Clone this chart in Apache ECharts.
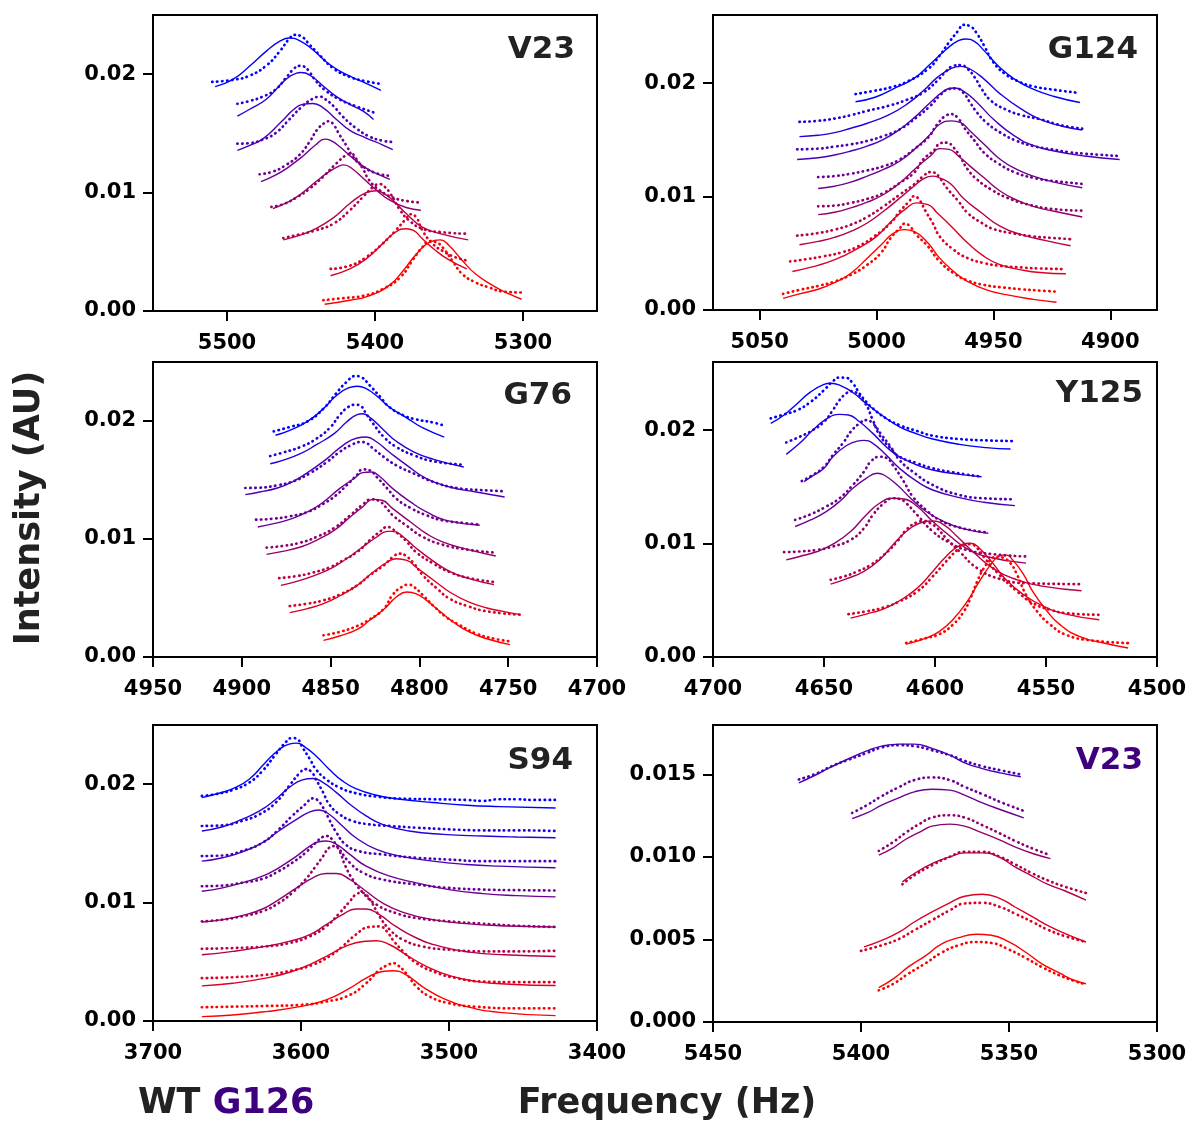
<!DOCTYPE html>
<html>
<head>
<meta charset="utf-8">
<script src="https://cdn.jsdelivr.net/npm/echarts@6/dist/echarts.min.js"></script>
<style>
html,body{margin:0;padding:0;background:#fff;}
#chart{width:1191px;height:1126px;}
</style>
</head>
<body>
<div id="chart"></div>
<script>
// ---------- DATA (frequency in Hz, intensity in units of 1e-3 AU) ----------
// Panel V23 (WT)
const v23Fit = [
 [[5508,18.95],[5496,19.57],[5485,20.65],[5473,21.99],[5464,22.81],[5458,23.06],[5451,22.84],[5442,22.07],[5433,21.05],[5424,20.28],[5415,19.72],[5406,19.23],[5396,18.64]],
 [[5493,16.45],[5485,17.02],[5473,17.93],[5462,19.35],[5453,20.09],[5450,20.14],[5444,19.91],[5435,19.01],[5426,18.10],[5417,17.45],[5408,16.88],[5401,16.17]],
 [[5493,13.56],[5485,13.96],[5476,14.52],[5464,15.89],[5455,17.02],[5449,17.45],[5442,17.53],[5435,17.16],[5426,16.17],[5417,15.26],[5406,14.61],[5395,14.04],[5388,13.62]],
 [[5477,10.92],[5467,11.49],[5458,12.20],[5449,13.05],[5440,14.04],[5434,14.52],[5430,14.41],[5424,13.90],[5415,12.91],[5406,12.06],[5397,11.49],[5390,11.12]],
 [[5469,8.65],[5460,9.13],[5451,9.79],[5440,10.92],[5431,11.77],[5424,12.26],[5421,12.34],[5415,11.97],[5408,11.21],[5399,10.21],[5390,9.36],[5379,8.74],[5369,8.51]],
 [[5462,6.01],[5451,6.38],[5440,6.95],[5428,7.89],[5417,9.08],[5406,9.99],[5399,10.16],[5395,9.99],[5388,9.36],[5379,8.23],[5368,7.09],[5354,6.47],[5337,6.01]],
 [[5430,2.98],[5417,3.55],[5406,4.40],[5395,5.67],[5386,6.67],[5379,6.95],[5374,6.81],[5368,6.10],[5359,5.11],[5350,4.31],[5338,3.55]],
 [[5434,0.57],[5417,0.91],[5404,1.28],[5390,2.21],[5381,3.40],[5372,4.82],[5363,5.82],[5356,6.01],[5350,5.53],[5341,4.26],[5332,3.12],[5320,2.13],[5309,1.42],[5301,0.99]]
];
const v23Data = [
 [[5510,19.35],[5496,19.52],[5485,19.86],[5473,20.77],[5464,21.99],[5458,22.98],[5454,23.32],[5450,23.21],[5444,22.47],[5437,21.56],[5428,20.48],[5417,19.77],[5406,19.40],[5396,19.18]],
 [[5493,17.50],[5485,17.73],[5476,18.10],[5467,18.72],[5460,19.72],[5455,20.43],[5451,20.71],[5448,20.65],[5444,20.14],[5440,19.43],[5433,18.58],[5424,17.87],[5413,17.30],[5400,16.74]],
 [[5493,14.13],[5485,14.18],[5476,14.47],[5467,15.04],[5458,16.17],[5449,17.30],[5442,17.93],[5437,18.10],[5434,17.93],[5428,17.30],[5422,16.45],[5413,15.46],[5404,14.75],[5395,14.38],[5388,14.27]],
 [[5478,11.55],[5469,11.77],[5460,12.34],[5451,13.19],[5444,14.33],[5439,15.32],[5434,15.89],[5431,16.03],[5428,15.74],[5424,14.89],[5419,13.90],[5415,13.05],[5408,12.20],[5399,11.63],[5390,11.43]],
 [[5470,8.79],[5462,9.02],[5453,9.59],[5444,10.35],[5435,11.35],[5426,12.48],[5419,13.19],[5416,13.28],[5413,12.91],[5408,11.97],[5404,11.06],[5397,10.21],[5388,9.59],[5379,9.30],[5369,9.16]],
 [[5462,6.16],[5451,6.47],[5440,6.81],[5428,7.38],[5417,8.51],[5408,9.65],[5401,10.50],[5397,10.72],[5394,10.55],[5390,9.99],[5383,8.51],[5377,7.66],[5368,6.95],[5356,6.67],[5337,6.52]],
 [[5430,3.55],[5417,3.83],[5406,4.54],[5395,5.67],[5386,6.81],[5379,7.80],[5376,8.17],[5372,7.89],[5368,6.81],[5361,5.67],[5354,5.05],[5347,4.60],[5338,4.26]],
 [[5435,0.91],[5422,1.08],[5408,1.28],[5395,1.84],[5383,2.84],[5374,4.40],[5368,5.39],[5363,5.90],[5359,5.82],[5354,5.33],[5347,4.11],[5341,3.12],[5332,2.41],[5323,1.99],[5314,1.65],[5301,1.56]]
];
// Panel G124
const g124Fit = [
 [[5009,18.35],[5001,18.73],[4993,19.47],[4984,20.41],[4977,21.68],[4970,23.01],[4965,23.75],[4962,23.89],[4958,23.66],[4954,22.86],[4948,21.53],[4941,20.35],[4933,19.47],[4924,18.82],[4913,18.29]],
 [[5033,15.28],[5025,15.40],[5018,15.63],[5011,16.02],[5004,16.46],[4995,17.17],[4987,18.14],[4980,19.32],[4974,20.50],[4968,21.30],[4964,21.47],[4960,21.24],[4954,20.35],[4947,19.03],[4938,17.70],[4930,16.81],[4921,16.22],[4912,15.87]],
 [[5034,13.27],[5025,13.42],[5018,13.66],[5011,14.01],[5004,14.45],[4997,15.04],[4990,15.93],[4983,17.11],[4977,18.29],[4971,19.32],[4967,19.56],[4963,19.32],[4957,18.29],[4950,16.81],[4941,15.34],[4933,14.51],[4924,14.01],[4911,13.57],[4896,13.27]],
 [[5025,10.71],[5018,10.91],[5011,11.27],[5004,11.80],[4997,12.39],[4990,13.13],[4983,14.31],[4977,15.49],[4973,16.37],[4968,16.67],[4964,16.52],[4960,15.78],[4954,14.60],[4947,13.27],[4940,12.39],[4933,11.80],[4924,11.27],[4912,10.77]],
 [[5025,8.41],[5018,8.61],[5011,9.00],[5004,9.50],[4997,10.18],[4990,11.21],[4983,12.54],[4977,13.57],[4973,14.22],[4969,14.16],[4965,13.57],[4960,12.68],[4954,11.65],[4947,10.47],[4940,9.68],[4933,9.14],[4924,8.70],[4912,8.20]],
 [[5033,5.75],[5025,6.05],[5018,6.40],[5011,6.93],[5004,7.67],[4997,8.70],[4990,9.88],[4984,10.91],[4980,11.56],[4976,11.80],[4973,11.65],[4968,11.06],[4963,9.88],[4955,8.55],[4947,7.37],[4938,6.64],[4928,6.14],[4917,5.66]],
 [[5036,3.39],[5028,3.78],[5021,4.19],[5014,4.78],[5007,5.55],[5000,6.49],[4993,7.96],[4987,9.00],[4983,9.44],[4978,9.29],[4974,8.55],[4968,7.37],[4961,5.90],[4954,4.72],[4947,3.98],[4938,3.54],[4930,3.30],[4919,3.19]],
 [[5040,1.03],[5033,1.42],[5025,1.83],[5018,2.42],[5011,3.24],[5004,4.57],[4998,5.75],[4993,6.73],[4988,7.08],[4984,6.93],[4978,5.90],[4973,4.57],[4967,3.39],[4961,2.51],[4953,1.77],[4944,1.33],[4933,0.94],[4923,0.68]]
];
const g124Data = [
 [[5009,19.03],[5001,19.32],[4994,19.62],[4987,20.12],[4978,21.24],[4973,22.42],[4969,23.60],[4965,24.63],[4963,25.13],[4960,25.01],[4957,24.34],[4954,23.30],[4950,21.83],[4945,20.80],[4940,20.21],[4933,19.71],[4924,19.41],[4913,19.12]],
 [[5033,16.58],[5025,16.67],[5018,16.87],[5011,17.17],[5004,17.55],[4995,17.99],[4987,18.53],[4980,19.17],[4974,20.21],[4970,21.09],[4967,21.53],[4964,21.59],[4961,21.24],[4958,20.50],[4955,19.47],[4951,18.44],[4945,17.70],[4938,17.17],[4930,16.81],[4921,16.28],[4912,15.99]],
 [[5034,14.16],[5025,14.22],[5018,14.40],[5011,14.60],[5004,14.90],[4997,15.34],[4990,15.93],[4983,16.96],[4977,17.99],[4973,18.88],[4969,19.47],[4966,19.53],[4963,19.17],[4960,18.29],[4957,17.40],[4953,16.52],[4947,15.63],[4940,14.90],[4933,14.45],[4925,14.16],[4918,13.92],[4911,13.78],[4896,13.57]],
 [[5025,11.71],[5018,11.80],[5011,12.01],[5004,12.30],[4997,12.68],[4990,13.27],[4984,14.16],[4978,15.19],[4974,16.37],[4970,17.17],[4968,17.26],[4965,16.87],[4962,15.93],[4958,14.90],[4954,13.86],[4948,12.92],[4941,12.15],[4933,11.65],[4924,11.36],[4912,11.12]],
 [[5025,9.14],[5018,9.20],[5011,9.44],[5004,9.79],[4997,10.32],[4990,11.21],[4984,12.09],[4980,13.27],[4975,14.16],[4973,14.69],[4970,14.75],[4967,14.31],[4964,13.42],[4961,12.39],[4957,11.50],[4951,10.62],[4944,9.88],[4935,9.29],[4925,8.91],[4912,8.76]],
 [[5034,6.55],[5025,6.78],[5018,7.08],[5011,7.52],[5004,8.20],[4997,9.14],[4990,10.18],[4984,11.06],[4980,11.80],[4977,12.15],[4975,12.09],[4973,11.65],[4970,10.77],[4965,9.59],[4961,8.55],[4955,7.67],[4950,7.14],[4941,6.73],[4933,6.49],[4924,6.34],[4917,6.25]],
 [[5037,4.28],[5030,4.48],[5023,4.72],[5015,5.07],[5008,5.60],[5001,6.49],[4994,7.67],[4990,8.70],[4986,9.59],[4984,10.03],[4982,9.79],[4979,8.70],[4976,7.67],[4973,6.49],[4967,5.31],[4961,4.57],[4954,4.13],[4947,3.89],[4938,3.75],[4930,3.66],[4919,3.60]],
 [[5040,1.42],[5033,1.77],[5025,2.12],[5018,2.51],[5011,3.10],[5004,3.98],[4998,5.07],[4994,6.34],[4990,7.23],[4988,7.61],[4986,7.43],[4983,6.64],[4978,5.60],[4973,4.28],[4967,3.24],[4961,2.60],[4954,2.21],[4947,2.01],[4938,1.83],[4930,1.71],[4923,1.62]]
];
// Panel G76
const g76Fit = [
 [[4881,18.79],[4873,19.21],[4863,19.97],[4854,21.05],[4847,22.12],[4840,22.80],[4835,22.94],[4830,22.74],[4824,22.12],[4817,21.19],[4807,20.25],[4798,19.41],[4786,18.64]],
 [[4884,16.38],[4877,16.67],[4867,17.23],[4858,17.99],[4848,18.93],[4841,19.92],[4835,20.54],[4832,20.62],[4827,20.20],[4820,19.21],[4813,18.28],[4803,17.37],[4792,16.75],[4775,16.10]],
 [[4898,13.76],[4890,13.98],[4880,14.32],[4871,14.89],[4862,15.73],[4852,16.81],[4843,17.94],[4835,18.56],[4830,18.64],[4824,18.22],[4817,17.37],[4807,16.24],[4796,15.11],[4783,14.41],[4768,13.98],[4752,13.56]],
 [[4891,11.02],[4882,11.30],[4873,11.67],[4863,12.29],[4854,13.14],[4845,14.27],[4837,15.11],[4832,15.62],[4827,15.68],[4822,15.25],[4815,14.27],[4805,13.14],[4796,12.29],[4785,11.58],[4766,11.16]],
 [[4886,8.70],[4877,8.95],[4867,9.32],[4858,9.89],[4848,10.73],[4839,11.86],[4832,12.71],[4826,13.36],[4821,13.28],[4815,12.57],[4805,11.44],[4796,10.45],[4787,9.75],[4773,9.12],[4757,8.56]],
 [[4878,6.07],[4869,6.41],[4860,6.86],[4850,7.49],[4841,8.33],[4832,9.32],[4824,10.17],[4818,10.65],[4815,10.65],[4809,10.17],[4802,9.24],[4792,8.11],[4783,7.26],[4772,6.64],[4758,6.13]],
 [[4873,3.76],[4863,4.10],[4854,4.52],[4845,5.17],[4835,6.07],[4826,7.20],[4818,8.05],[4813,8.33],[4807,8.19],[4802,7.63],[4792,6.50],[4783,5.51],[4773,4.72],[4762,4.15],[4753,3.87],[4743,3.59]],
 [[4854,1.41],[4845,1.78],[4835,2.34],[4828,3.11],[4820,4.04],[4813,5.08],[4807,5.51],[4802,5.37],[4796,4.80],[4788,3.81],[4781,2.97],[4772,2.12],[4762,1.55],[4749,1.05]]
];
const g76Data = [
 [[4882,19.12],[4873,19.49],[4863,19.97],[4854,21.05],[4847,22.32],[4841,23.31],[4836,23.81],[4833,23.73],[4828,23.02],[4822,22.03],[4817,21.19],[4809,20.48],[4802,20.14],[4792,19.86],[4785,19.55]],
 [[4884,17.03],[4877,17.32],[4867,17.80],[4858,18.50],[4850,19.49],[4845,20.48],[4840,21.19],[4836,21.38],[4833,21.27],[4830,20.62],[4826,19.77],[4820,18.64],[4813,17.80],[4803,17.09],[4792,16.58],[4775,16.30]],
 [[4898,14.32],[4890,14.35],[4880,14.55],[4871,14.89],[4862,15.54],[4852,16.53],[4845,17.37],[4838,17.99],[4833,18.22],[4830,18.14],[4826,17.66],[4820,16.95],[4813,16.24],[4803,15.54],[4792,14.83],[4779,14.32],[4762,14.12],[4752,14.04]],
 [[4892,11.64],[4882,11.72],[4873,11.92],[4863,12.29],[4854,12.99],[4847,13.70],[4841,14.55],[4835,15.45],[4832,15.90],[4828,15.82],[4824,15.25],[4818,14.27],[4813,13.42],[4805,12.63],[4796,12.01],[4787,11.58],[4775,11.36],[4766,11.21]],
 [[4886,9.27],[4877,9.41],[4867,9.69],[4858,10.17],[4848,10.93],[4839,12.01],[4832,12.91],[4827,13.36],[4823,13.25],[4819,12.71],[4815,12.01],[4807,11.10],[4798,10.17],[4787,9.52],[4773,9.10],[4757,8.84]],
 [[4879,6.69],[4869,6.86],[4860,7.15],[4850,7.63],[4843,8.19],[4835,8.90],[4828,9.89],[4822,10.65],[4818,11.02],[4816,10.93],[4812,10.45],[4807,9.75],[4802,8.90],[4792,7.91],[4783,7.20],[4772,6.69],[4758,6.36]],
 [[4873,4.32],[4863,4.52],[4854,4.80],[4845,5.28],[4835,6.07],[4828,6.92],[4820,7.77],[4815,8.47],[4811,8.76],[4808,8.62],[4803,7.91],[4798,6.92],[4790,5.79],[4783,4.94],[4773,4.32],[4762,3.87],[4743,3.59]],
 [[4854,1.84],[4845,2.12],[4835,2.63],[4828,3.19],[4820,4.10],[4815,5.28],[4810,5.93],[4806,6.13],[4803,5.93],[4798,5.23],[4792,4.32],[4785,3.39],[4777,2.68],[4768,1.98],[4758,1.55],[4749,1.33]]
];
// Panel Y125
const y125Fit = [
 [[4674,20.59],[4668,21.33],[4662,22.35],[4656,23.37],[4650,24.02],[4647,24.13],[4643,23.96],[4637,23.31],[4631,22.35],[4623,21.17],[4616,20.29],[4608,19.65],[4601,19.21],[4589,18.74],[4577,18.45],[4566,18.33]],
 [[4667,17.86],[4661,18.83],[4655,20.00],[4649,20.97],[4643,21.38],[4639,21.33],[4634,20.73],[4628,19.71],[4622,18.53],[4616,17.65],[4608,16.92],[4601,16.48],[4589,16.10],[4579,15.89]],
 [[4659,15.45],[4655,15.98],[4650,16.63],[4646,17.65],[4640,18.62],[4635,19.03],[4632,19.09],[4628,18.83],[4622,17.80],[4616,16.63],[4608,15.45],[4601,14.72],[4589,14.05],[4578,13.64],[4564,13.34]],
 [[4663,11.50],[4656,12.08],[4649,12.82],[4643,13.70],[4637,14.87],[4631,15.75],[4626,16.19],[4623,16.04],[4617,15.16],[4611,13.99],[4604,12.82],[4596,11.94],[4587,11.29],[4576,10.91]],
 [[4667,8.56],[4661,8.86],[4653,9.30],[4646,9.94],[4638,11.06],[4631,12.52],[4625,13.55],[4619,13.99],[4614,13.93],[4608,13.26],[4601,11.94],[4593,10.62],[4586,9.59],[4577,8.86],[4559,8.27]],
 [[4647,6.42],[4640,6.89],[4632,7.54],[4625,8.56],[4619,9.88],[4613,11.06],[4607,11.79],[4601,11.99],[4596,11.64],[4590,10.62],[4583,9.30],[4574,7.83],[4563,6.80],[4551,6.22],[4534,5.84]],
 [[4638,3.43],[4631,3.78],[4623,4.25],[4616,4.96],[4608,6.07],[4601,7.54],[4595,8.86],[4589,9.82],[4584,10.03],[4580,9.59],[4574,8.27],[4568,6.80],[4560,5.48],[4551,4.46],[4541,3.78],[4526,3.28]],
 [[4613,1.14],[4604,1.67],[4598,2.26],[4592,3.28],[4586,4.75],[4580,6.66],[4575,8.12],[4571,8.91],[4568,9.00],[4565,8.56],[4560,7.24],[4556,5.78],[4550,4.16],[4544,2.90],[4535,1.82],[4524,1.23],[4513,0.79]]
];
const y125Data = [
 [[4674,21.03],[4668,21.38],[4662,21.76],[4656,22.49],[4650,23.52],[4646,24.31],[4643,24.63],[4640,24.60],[4637,24.11],[4634,23.23],[4631,22.49],[4628,21.91],[4622,21.03],[4616,20.44],[4608,19.91],[4601,19.50],[4589,19.21],[4577,19.09],[4565,19.03]],
 [[4667,18.91],[4661,19.41],[4655,20.00],[4650,20.73],[4646,21.76],[4643,22.64],[4640,23.23],[4638,23.43],[4632,22.49],[4628,20.88],[4625,19.56],[4620,18.39],[4616,17.65],[4608,17.07],[4601,16.63],[4592,16.28],[4579,15.89]],
 [[4660,15.51],[4655,16.04],[4650,16.77],[4646,17.80],[4641,18.97],[4638,19.85],[4634,20.59],[4631,20.88],[4628,20.59],[4624,19.56],[4620,18.53],[4616,17.36],[4610,16.33],[4601,15.16],[4589,14.28],[4578,13.99],[4564,13.90]],
 [[4663,12.08],[4656,12.58],[4649,13.26],[4643,13.99],[4637,15.16],[4632,16.33],[4629,17.21],[4625,17.65],[4622,17.56],[4619,16.92],[4614,15.45],[4610,14.13],[4604,12.96],[4598,12.08],[4589,11.41],[4576,10.97]],
 [[4668,9.24],[4661,9.30],[4653,9.44],[4646,9.74],[4638,10.32],[4632,11.35],[4628,12.52],[4623,13.55],[4619,13.99],[4616,13.93],[4613,13.55],[4608,12.52],[4601,11.06],[4593,10.03],[4586,9.44],[4574,9.06],[4559,8.86]],
 [[4647,6.80],[4641,7.10],[4635,7.54],[4629,8.12],[4623,9.00],[4617,10.18],[4613,11.20],[4608,11.88],[4605,11.99],[4602,11.79],[4599,11.35],[4595,10.47],[4589,9.30],[4581,7.83],[4571,6.89],[4559,6.51],[4534,6.42]],
 [[4639,3.78],[4631,4.02],[4623,4.37],[4616,4.90],[4608,5.78],[4601,7.10],[4595,8.42],[4590,9.44],[4587,9.88],[4584,9.94],[4581,9.59],[4577,8.56],[4571,7.24],[4563,5.78],[4556,4.75],[4548,4.16],[4541,3.87],[4526,3.72]],
 [[4613,1.23],[4604,1.67],[4598,2.02],[4592,2.84],[4587,4.02],[4584,5.19],[4581,6.66],[4578,7.83],[4575,8.56],[4572,8.86],[4569,8.71],[4566,8.27],[4563,7.24],[4559,5.48],[4554,4.02],[4548,2.84],[4541,1.96],[4530,1.47],[4513,1.23]]
];
// Panel S94
const s94Fit = [
 [[3667,18.87],[3658,19.15],[3646,19.63],[3635,20.42],[3624,21.84],[3615,22.91],[3608,23.39],[3603,23.47],[3597,23.11],[3590,22.40],[3581,21.27],[3572,20.28],[3563,19.63],[3549,19.07],[3533,18.73],[3511,18.45],[3488,18.22],[3466,18.11],[3428,17.99]],
 [[3667,16.05],[3653,16.41],[3640,17.03],[3628,17.74],[3617,18.73],[3608,19.72],[3599,20.37],[3592,20.48],[3585,20.14],[3576,19.29],[3567,18.31],[3556,17.32],[3545,16.61],[3527,16.05],[3504,15.76],[3477,15.62],[3454,15.54],[3428,15.48]],
 [[3667,13.50],[3653,13.79],[3640,14.27],[3626,15.06],[3615,16.05],[3603,17.03],[3594,17.66],[3588,17.82],[3581,17.46],[3572,16.47],[3563,15.48],[3549,14.49],[3533,13.93],[3511,13.50],[3488,13.22],[3466,13.08],[3428,12.94]],
 [[3667,10.96],[3653,11.24],[3640,11.67],[3626,12.23],[3615,12.94],[3603,13.93],[3594,14.77],[3588,15.14],[3583,15.20],[3576,14.92],[3567,14.07],[3556,13.08],[3540,12.23],[3522,11.67],[3500,11.10],[3477,10.76],[3454,10.59],[3428,10.48]],
 [[3667,8.36],[3653,8.56],[3640,8.90],[3626,9.46],[3615,10.25],[3603,11.24],[3592,12.09],[3583,12.46],[3576,12.46],[3567,11.95],[3556,10.96],[3545,9.97],[3531,9.18],[3511,8.56],[3488,8.22],[3466,8.05],[3428,7.94]],
 [[3667,5.59],[3646,5.88],[3624,6.30],[3608,6.72],[3594,7.29],[3583,8.14],[3572,8.98],[3563,9.46],[3556,9.46],[3547,8.98],[3536,7.99],[3522,7.01],[3506,6.30],[3486,5.82],[3463,5.59],[3428,5.45]],
 [[3667,2.97],[3646,3.19],[3624,3.62],[3606,4.18],[3592,4.89],[3581,5.59],[3570,6.30],[3558,6.72],[3549,6.78],[3540,6.44],[3529,5.59],[3515,4.60],[3499,3.81],[3481,3.33],[3459,3.11],[3428,3.00]],
 [[3667,0.37],[3646,0.51],[3624,0.79],[3601,1.21],[3583,1.78],[3567,2.77],[3556,3.62],[3545,4.18],[3538,4.24],[3529,3.90],[3518,2.91],[3504,1.92],[3488,1.21],[3466,0.73],[3428,0.45]]
];
const s94Data = [
 [[3667,19.01],[3658,19.15],[3646,19.52],[3635,20.14],[3626,21.13],[3617,22.54],[3610,23.59],[3606,23.90],[3602,23.76],[3599,23.11],[3594,22.12],[3590,21.27],[3583,20.42],[3574,19.72],[3563,19.24],[3549,18.95],[3533,18.79],[3511,18.73],[3488,18.67],[3477,18.59],[3466,18.73],[3454,18.73],[3443,18.67],[3428,18.67]],
 [[3667,16.47],[3653,16.53],[3640,16.89],[3628,17.46],[3617,18.45],[3608,19.86],[3601,20.93],[3597,21.27],[3593,21.05],[3590,20.42],[3585,19.29],[3581,18.31],[3574,17.46],[3565,16.89],[3554,16.61],[3540,16.47],[3522,16.33],[3500,16.19],[3477,16.10],[3454,16.10],[3428,16.05]],
 [[3667,13.93],[3653,13.98],[3640,14.35],[3626,15.06],[3615,16.19],[3606,17.32],[3597,18.31],[3592,18.81],[3589,18.67],[3585,18.02],[3581,17.03],[3576,15.90],[3570,14.92],[3561,14.35],[3545,14.07],[3522,13.79],[3500,13.64],[3477,13.50],[3454,13.50],[3428,13.50]],
 [[3667,11.38],[3653,11.44],[3640,11.67],[3626,12.01],[3615,12.66],[3606,13.36],[3597,14.21],[3590,15.06],[3585,15.56],[3582,15.62],[3579,15.34],[3574,14.49],[3567,13.36],[3558,12.51],[3545,11.95],[3522,11.53],[3500,11.24],[3477,11.10],[3454,11.05],[3428,11.02]],
 [[3667,8.42],[3653,8.56],[3640,8.84],[3626,9.27],[3615,9.97],[3606,10.82],[3597,11.95],[3590,13.08],[3585,13.93],[3581,14.63],[3577,14.77],[3574,14.35],[3570,13.08],[3565,11.95],[3558,10.82],[3549,9.83],[3536,9.12],[3522,8.70],[3500,8.42],[3477,8.22],[3454,8.05],[3428,7.94]],
 [[3667,6.10],[3646,6.16],[3624,6.30],[3608,6.58],[3594,7.15],[3583,7.99],[3574,9.12],[3567,10.11],[3563,10.68],[3559,10.82],[3556,10.68],[3552,9.97],[3547,8.84],[3540,7.71],[3531,6.86],[3518,6.30],[3500,6.02],[3477,5.88],[3454,5.88],[3428,5.93]],
 [[3667,3.62],[3646,3.70],[3624,3.90],[3606,4.27],[3592,4.75],[3581,5.45],[3572,6.30],[3563,7.29],[3554,7.94],[3547,7.99],[3542,7.57],[3538,6.86],[3531,5.88],[3522,4.89],[3509,4.10],[3495,3.62],[3477,3.33],[3454,3.28],[3428,3.28]],
 [[3667,1.16],[3646,1.21],[3624,1.27],[3601,1.36],[3583,1.64],[3567,2.20],[3556,3.19],[3547,4.32],[3541,4.75],[3538,4.89],[3535,4.75],[3529,4.04],[3522,2.91],[3513,2.06],[3500,1.50],[3482,1.21],[3454,1.07],[3428,1.07]]
];
// Panel V23 (G126 mutant)
const g126Fit = [
 [[5421,14.49],[5415,15.00],[5410,15.46],[5404,15.97],[5398,16.43],[5393,16.72],[5387,16.84],[5382,16.84],[5376,16.58],[5370,16.17],[5365,15.71],[5359,15.36],[5353,15.10],[5346,14.86]],
 [[5403,12.33],[5398,12.67],[5393,13.14],[5387,13.60],[5382,13.95],[5376,14.11],[5370,14.05],[5365,13.75],[5359,13.28],[5353,12.88],[5345,12.37]],
 [[5394,10.11],[5389,10.57],[5385,11.06],[5380,11.52],[5376,11.87],[5370,11.99],[5365,11.87],[5359,11.46],[5353,11.02],[5348,10.61],[5342,10.21],[5336,9.90]],
 [[5386,8.49],[5382,9.00],[5376,9.60],[5370,10.01],[5365,10.25],[5359,10.25],[5353,9.97],[5348,9.40],[5342,8.83],[5337,8.35],[5331,7.94],[5324,7.38]],
 [[5399,4.55],[5393,4.95],[5387,5.46],[5382,6.06],[5376,6.67],[5370,7.22],[5365,7.62],[5359,7.74],[5353,7.48],[5348,6.97],[5342,6.37],[5337,5.86],[5331,5.36],[5324,4.85]],
 [[5394,2.08],[5389,2.63],[5384,3.34],[5378,4.04],[5373,4.71],[5367,5.11],[5361,5.32],[5356,5.26],[5350,4.85],[5344,4.18],[5339,3.54],[5333,2.97],[5328,2.53],[5324,2.32]]
];
const g126Data = [
 [[5421,14.70],[5415,15.06],[5410,15.50],[5404,15.91],[5398,16.31],[5393,16.64],[5387,16.78],[5382,16.72],[5376,16.47],[5370,16.17],[5365,15.83],[5359,15.50],[5353,15.26],[5346,15.00]],
 [[5403,12.67],[5398,13.14],[5393,13.69],[5387,14.25],[5382,14.66],[5376,14.82],[5370,14.66],[5365,14.25],[5359,13.81],[5353,13.34],[5344,12.73]],
 [[5394,10.37],[5389,10.92],[5385,11.46],[5380,12.03],[5376,12.39],[5370,12.53],[5365,12.39],[5359,11.93],[5353,11.42],[5348,10.98],[5342,10.51],[5336,10.11]],
 [[5386,8.35],[5382,8.89],[5376,9.50],[5370,10.01],[5365,10.31],[5359,10.31],[5353,10.01],[5348,9.56],[5342,9.00],[5337,8.59],[5331,8.19],[5324,7.82]],
 [[5400,4.31],[5393,4.65],[5387,5.05],[5382,5.56],[5376,6.17],[5370,6.77],[5365,7.18],[5359,7.22],[5353,6.97],[5348,6.57],[5342,6.06],[5337,5.60],[5331,5.20],[5324,4.85]],
 [[5394,1.92],[5389,2.32],[5384,2.93],[5378,3.58],[5373,4.18],[5367,4.65],[5361,4.85],[5356,4.79],[5350,4.39],[5344,3.84],[5339,3.34],[5333,2.83],[5328,2.49],[5324,2.28]]
];

// Tick labels
const v23XTicks = [5500, 5400, 5300];
const g124XTicks = [5050, 5000, 4950, 4900];
const g76XTicks = [4950, 4900, 4850, 4800, 4750, 4700];
const y125XTicks = [4700, 4650, 4600, 4550, 4500];
const s94XTicks = [3700, 3600, 3500, 3400];
const g126XTicks = [5450, 5400, 5350, 5300];
const yTicksMain = [0, 0.01, 0.02];
const yTicksG126 = [0, 0.005, 0.010, 0.015];

// Panel names
const panelNames = ['V23', 'G124', 'G76', 'Y125', 'S94', 'V23'];

// ---------- STYLE / LAYOUT ----------
const FONT = 'DejaVu Sans';
const COLORS8 = ['#0000ff','#2400db','#4900b6','#6d0092','#92006d','#b60049','#db0024','#ff0000'];
const PURPLE = '#3f007f';

const panels = [
  {fit: v23Fit, data: v23Data, grid: {left:153, top:15, width:444, height:296}, xr:[5250,5550], xt:v23XTicks, ymax:0.025, yt:yTicksMain, dec:2, cOff:0, title:{x:575, y:50, color:'#222'}},
  {fit: g124Fit, data: g124Data, grid: {left:713, top:15, width:444, height:295}, xr:[4880,5070], xt:g124XTicks, ymax:0.026, yt:yTicksMain, dec:2, cOff:0, title:{x:1138, y:50, color:'#222'}},
  {fit: g76Fit, data: g76Data, grid: {left:153, top:362, width:444, height:295}, xr:[4700,4950], xt:g76XTicks, ymax:0.025, yt:yTicksMain, dec:2, cOff:0, title:{x:572, y:396, color:'#222'}},
  {fit: y125Fit, data: y125Data, grid: {left:713, top:362, width:444, height:295}, xr:[4500,4700], xt:y125XTicks, ymax:0.026, yt:yTicksMain, dec:2, cOff:0, title:{x:1143, y:394, color:'#222'}},
  {fit: s94Fit, data: s94Data, grid: {left:153, top:725, width:444, height:296}, xr:[3400,3700], xt:s94XTicks, ymax:0.025, yt:yTicksMain, dec:2, cOff:0, title:{x:573, y:761, color:'#222'}},
  {fit: g126Fit, data: g126Data, grid: {left:713, top:725, width:444, height:297}, xr:[5300,5450], xt:g126XTicks, ymax:0.018, yt:yTicksG126, dec:3, cOff:2, title:{x:1143, y:761, color:PURPLE}}
];

const grids = [], xAxes = [], yAxes = [], series = [], graphics = [];
const labelStyle = {fontFamily: FONT, fontWeight: 'bold', fontSize: 21, color: '#000'};

panels.forEach((p, k) => {
  grids.push(Object.assign({show: true, borderColor: '#000', borderWidth: 2, backgroundColor: 'rgba(0,0,0,0)'}, p.grid));
  xAxes.push({
    gridIndex: k, type: 'value', min: p.xr[0], max: p.xr[1], inverse: true, position: 'bottom',
    axisLine: {show: true, onZero: false, lineStyle: {color: '#000', width: 2}},
    axisTick: {show: true, length: 10, lineStyle: {color: '#000', width: 2}, customValues: p.xt},
    axisLabel: Object.assign({show: true, margin: 22, customValues: p.xt, formatter: v => String(Math.round(v))}, labelStyle),
    splitLine: {show: false}
  });
  yAxes.push({
    gridIndex: k, type: 'value', min: 0, max: p.ymax,
    axisLine: {show: true, onZero: false, lineStyle: {color: '#000', width: 2}},
    axisTick: {show: true, length: 10, lineStyle: {color: '#000', width: 2}, customValues: p.yt},
    axisLabel: Object.assign({show: true, margin: 17, customValues: p.yt, formatter: v => v.toFixed(p.dec)}, labelStyle),
    splitLine: {show: false}
  });
  p.fit.forEach((tr, t) => {
    const c = COLORS8[t + p.cOff];
    series.push({
      type: 'line', xAxisIndex: k, yAxisIndex: k, silent: true, animation: false,
      symbol: 'none', smooth: 0.5,
      lineStyle: {color: c, width: 1.4},
      data: tr.map(d => [d[0], d[1] / 1000]), z: 2
    });
  });
  p.data.forEach((tr, t) => {
    const c = COLORS8[t + p.cOff];
    series.push({
      type: 'line', xAxisIndex: k, yAxisIndex: k, silent: true, animation: false,
      symbol: 'none', smooth: 0.5,
      lineStyle: {color: c, width: 2.7, type: [0.4, 4.6], cap: 'round'},
      data: tr.map(d => [d[0], d[1] / 1000]), z: 3
    });
  });
  graphics.push({
    type: 'text', x: p.title.x, y: p.title.y, silent: true,
    style: {text: panelNames[k], font: 'bold 31px "DejaVu Sans"', fill: p.title.color, align: 'right', verticalAlign: 'middle'}
  });
});

graphics.push({
  type: 'text', x: 30, y: 508, rotation: Math.PI / 2, silent: true,
  style: {text: 'Intensity (AU)', font: 'bold 35px "DejaVu Sans"', fill: '#222', align: 'center', verticalAlign: 'middle'}
});
graphics.push({
  type: 'text', x: 667, y: 1104, silent: true,
  style: {text: 'Frequency (Hz)', font: 'bold 35px "DejaVu Sans"', fill: '#222', align: 'center', verticalAlign: 'middle'}
});
graphics.push({
  type: 'text', x: 138, y: 1104, silent: true,
  style: {
    text: '{a|WT} {b|G126}', font: 'bold 35px "DejaVu Sans"', fill: '#222', align: 'left', verticalAlign: 'middle',
    rich: {
      a: {font: 'bold 35px "DejaVu Sans"', fill: '#222'},
      b: {font: 'bold 35px "DejaVu Sans"', fill: PURPLE}
    }
  }
});

const chart = echarts.init(document.getElementById('chart'), null, {renderer: 'canvas'});
chart.setOption({
  backgroundColor: '#ffffff',
  animation: false,
  grid: grids,
  xAxis: xAxes,
  yAxis: yAxes,
  series: series,
  graphic: graphics
});
</script>
</body>
</html>
